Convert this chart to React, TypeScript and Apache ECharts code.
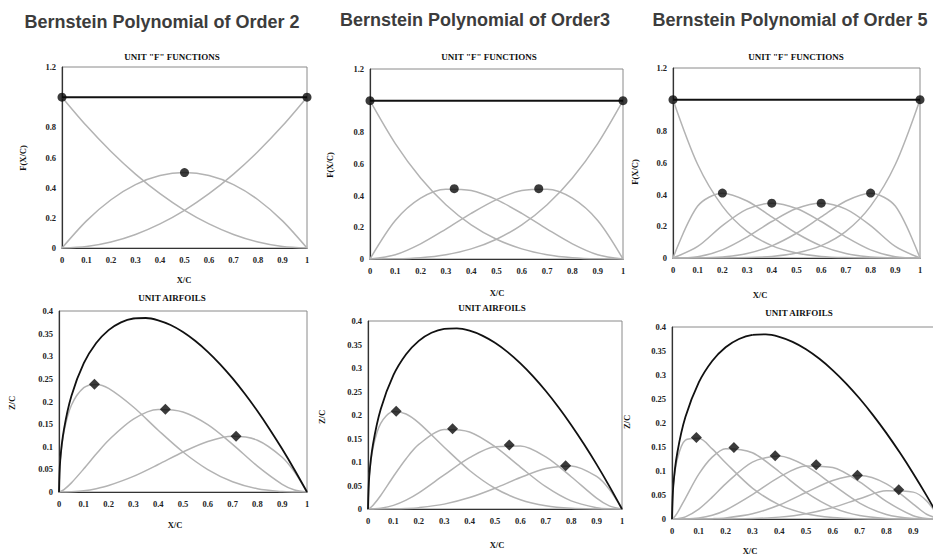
import React, { useEffect, useRef } from "react";
import * as echarts from "echarts";

// ---- Top row: unit "F" functions (Bernstein basis), sampled at TOP_X ----
const TOP_X = [0, 0.1, 0.2, 0.3, 0.4, 0.5, 0.6, 0.7, 0.8, 0.9, 1];
const SUM_X = [0, 1];
const SUM_Y = [1, 1];

const O2_F0 = [1, 0.81, 0.64, 0.49, 0.36, 0.25, 0.16, 0.09, 0.04, 0.01, 0];
const O2_F1 = [0, 0.18, 0.32, 0.42, 0.48, 0.5, 0.48, 0.42, 0.32, 0.18, 0];
const O2_F2 = [0, 0.01, 0.04, 0.09, 0.16, 0.25, 0.36, 0.49, 0.64, 0.81, 1];

const O3_F0 = [1, 0.729, 0.512, 0.343, 0.216, 0.125, 0.064, 0.027, 0.008, 0.001, 0];
const O3_F1 = [0, 0.243, 0.384, 0.441, 0.432, 0.375, 0.288, 0.189, 0.096, 0.027, 0];
const O3_F2 = [0, 0.027, 0.096, 0.189, 0.288, 0.375, 0.432, 0.441, 0.384, 0.243, 0];
const O3_F3 = [0, 0.001, 0.008, 0.027, 0.064, 0.125, 0.216, 0.343, 0.512, 0.729, 1];

const O5_F0 = [1, 0.5905, 0.3277, 0.1681, 0.0778, 0.0313, 0.0102, 0.0024, 0.0003, 0, 0];
const O5_F1 = [0, 0.3281, 0.4096, 0.3602, 0.2592, 0.1563, 0.0768, 0.0284, 0.0064, 0.0005, 0];
const O5_F2 = [0, 0.0729, 0.2048, 0.3087, 0.3456, 0.3125, 0.2304, 0.1323, 0.0512, 0.0081, 0];
const O5_F3 = [0, 0.0081, 0.0512, 0.1323, 0.2304, 0.3125, 0.3456, 0.3087, 0.2048, 0.0729, 0];
const O5_F4 = [0, 0.0005, 0.0064, 0.0284, 0.0768, 0.1563, 0.2592, 0.3602, 0.4096, 0.3281, 0];
const O5_F5 = [0, 0, 0.0003, 0.0024, 0.0102, 0.0313, 0.0778, 0.1681, 0.3277, 0.5905, 1];

const O2_FPEAK_X = [0, 0.5, 1];
const O2_FPEAK_Y = [1, 0.5, 1];
const O3_FPEAK_X = [0, 0.333, 0.667, 1];
const O3_FPEAK_Y = [1, 0.444, 0.444, 1];
const O5_FPEAK_X = [0, 0.2, 0.4, 0.6, 0.8, 1];
const O5_FPEAK_Y = [1, 0.41, 0.346, 0.346, 0.41, 1];

// ---- Bottom row: unit airfoils ----
const ENV_X = [0, 0.005, 0.02, 0.05, 0.1, 0.15, 0.2, 0.25, 0.3, 0.35, 0.4, 0.45, 0.5, 0.55, 0.6, 0.65, 0.7, 0.75, 0.8, 0.85, 0.9, 0.95, 1];
const ENVELOPE = [0, 0.0704, 0.1386, 0.2124, 0.2846, 0.3292, 0.3578, 0.375, 0.3834, 0.3845, 0.3795, 0.369, 0.3536, 0.3337, 0.3098, 0.2822, 0.251, 0.2165, 0.1789, 0.1383, 0.0949, 0.0487, 0];

const LOW_X = [0, 0.005, 0.02, 0.05, 0.1, 0.15, 0.2, 0.3, 0.4, 0.5, 0.6, 0.7, 0.8, 0.9, 0.95, 1];

const O2_A0 = [0, 0.0697, 0.1331, 0.1917, 0.2305, 0.2378, 0.229, 0.1879, 0.1366, 0.0884, 0.0496, 0.0226, 0.0072, 0.0009, 0.0001, 0];
const O2_A1 = [0, 0.0007, 0.0054, 0.0202, 0.0512, 0.0839, 0.1145, 0.161, 0.1822, 0.1768, 0.1487, 0.1054, 0.0572, 0.0171, 0.0046, 0];
const O2_A2 = [0, 0, 0.0001, 0.0005, 0.0028, 0.0074, 0.0143, 0.0345, 0.0607, 0.0884, 0.1115, 0.123, 0.1145, 0.0769, 0.044, 0];

const O3_A0 = [0, 0.0693, 0.1305, 0.1821, 0.2075, 0.2022, 0.1832, 0.1315, 0.082, 0.0442, 0.0198, 0.0068, 0.0014, 0.0001, 0, 0];
const O3_A1 = [0, 0.001, 0.008, 0.0288, 0.0692, 0.107, 0.1374, 0.1691, 0.1639, 0.1326, 0.0892, 0.0474, 0.0172, 0.0026, 0.0003, 0];
const O3_A2 = [0, 0, 0.0002, 0.0015, 0.0077, 0.0189, 0.0343, 0.0725, 0.1093, 0.1326, 0.1338, 0.1107, 0.0687, 0.0231, 0.0066, 0];
const O3_A3 = [0, 0, 0, 0, 0.0003, 0.0011, 0.0029, 0.0104, 0.0243, 0.0442, 0.0669, 0.0861, 0.0916, 0.0692, 0.0418, 0];

const O5_A0 = [0, 0.0687, 0.1253, 0.1644, 0.1681, 0.1461, 0.1173, 0.0645, 0.0295, 0.0111, 0.0032, 0.0006, 0.0001, 0, 0, 0];
const O5_A1 = [0, 0.0017, 0.0128, 0.0432, 0.0934, 0.1289, 0.1466, 0.1381, 0.0984, 0.0553, 0.0238, 0.0071, 0.0011, 0, 0, 0];
const O5_A2 = [0, 0, 0.0005, 0.0045, 0.0207, 0.0455, 0.0733, 0.1184, 0.1312, 0.1105, 0.0714, 0.0332, 0.0092, 0.0008, 0.0001, 0];
const O5_A3 = [0, 0, 0, 0.0002, 0.0023, 0.008, 0.0183, 0.0507, 0.0874, 0.1105, 0.1071, 0.0775, 0.0366, 0.0069, 0.001, 0];
const O5_A4 = [0, 0, 0, 0, 0.0001, 0.0007, 0.0023, 0.0109, 0.0291, 0.0553, 0.0803, 0.0904, 0.0733, 0.0311, 0.0099, 0];
const O5_A5 = [0, 0, 0, 0, 0, 0, 0.0001, 0.0009, 0.0039, 0.0111, 0.0241, 0.0422, 0.0586, 0.056, 0.0377, 0];

const O2_APEAK_X = [0.143, 0.429, 0.714];
const O2_APEAK_Y = [0.238, 0.183, 0.123];
const O3_APEAK_X = [0.111, 0.333, 0.556, 0.778];
const O3_APEAK_Y = [0.208, 0.171, 0.136, 0.092];
const O5_APEAK_X = [0.091, 0.231, 0.385, 0.538, 0.692, 0.846];
const O5_APEAK_Y = [0.17, 0.149, 0.132, 0.113, 0.091, 0.061];

const MAIN_TITLES = ["Bernstein Polynomial of Order 2", "Bernstein Polynomial of Order3", "Bernstein Polynomial of Order 5"];
const TOP_SUB = 'UNIT "F" FUNCTIONS';
const LOW_SUB = "UNIT AIRFOILS";
const X_NAME = "X/C";
const TOP_Y_NAME = "F(X/C)";
const LOW_Y_NAME = "Z/C";

const GRIDS = [
  { left: 62, top: 67, width: 245, height: 181 },
  { left: 370, top: 69, width: 253, height: 190 },
  { left: 673, top: 68, width: 247, height: 190 },
  { left: 59, top: 311, width: 248, height: 181 },
  { left: 368, top: 321, width: 254, height: 188 },
  { left: 672, top: 327, width: 268, height: 192 },
];

const GRAY = "#b3b3b3";
const SERIF = "'Liberation Serif', 'Times New Roman', serif";

function lineSeries(xs: number[], ys: number[], g: number, color: string, width: number, z: number) {
  return {
    type: "line",
    xAxisIndex: g,
    yAxisIndex: g,
    data: xs.map((x, i) => [x, ys[i]]),
    smooth: 0.3,
    symbol: "none",
    showSymbol: false,
    silent: true,
    lineStyle: { color, width },
    z,
  };
}

function markerSeries(xs: number[], ys: number[], g: number, symbol: string, size: number) {
  return {
    type: "scatter",
    xAxisIndex: g,
    yAxisIndex: g,
    data: xs.map((x, i) => [x, ys[i]]),
    symbol,
    symbolSize: size,
    clip: false,
    silent: true,
    itemStyle: { color: "#0a0a0a" },
    z: 6,
  };
}

function txt(text: string, x: number, y: number, font: string, fill: string, rotation = 0) {
  return {
    type: "text",
    x,
    y,
    rotation,
    silent: true,
    style: { text, font, fill, textAlign: "center", textVerticalAlign: "middle" },
  };
}

const fmt = (v: number) => String(Math.round(v * 100) / 100);

export default function App() {
  const ref = useRef<HTMLDivElement>(null);

  useEffect(() => {
    if (!ref.current) return;
    const chart = echarts.init(ref.current, null, { renderer: "svg" });

    const topCurves = [
      [O2_F0, O2_F1, O2_F2],
      [O3_F0, O3_F1, O3_F2, O3_F3],
      [O5_F0, O5_F1, O5_F2, O5_F3, O5_F4, O5_F5],
    ];
    const lowCurves = [
      [O2_A0, O2_A1, O2_A2],
      [O3_A0, O3_A1, O3_A2, O3_A3],
      [O5_A0, O5_A1, O5_A2, O5_A3, O5_A4, O5_A5],
    ];
    const topPeaks = [
      [O2_FPEAK_X, O2_FPEAK_Y],
      [O3_FPEAK_X, O3_FPEAK_Y],
      [O5_FPEAK_X, O5_FPEAK_Y],
    ];
    const lowPeaks = [
      [O2_APEAK_X, O2_APEAK_Y],
      [O3_APEAK_X, O3_APEAK_Y],
      [O5_APEAK_X, O5_APEAK_Y],
    ];

    const series: any[] = [];
    for (let k = 0; k < 3; k++) {
      topCurves[k].forEach((c) => series.push(lineSeries(TOP_X, c, k, GRAY, 1.5, 2)));
      series.push(lineSeries(SUM_X, SUM_Y, k, "#111", 2, 3));
      series.push(markerSeries(topPeaks[k][0], topPeaks[k][1], k, "circle", 9));
      lowCurves[k].forEach((c) => series.push(lineSeries(LOW_X, c, k + 3, GRAY, 1.5, 2)));
      series.push(lineSeries(ENV_X, ENVELOPE, k + 3, "#111", 1.8, 3));
      series.push(markerSeries(lowPeaks[k][0], lowPeaks[k][1], k + 3, "diamond", 11));
    }

    const labelStyle = { fontSize: 8.5, fontWeight: "bold", fontFamily: SERIF, color: "#222" };

    const xAxis = GRIDS.map((_, g) => ({
      type: "value",
      gridIndex: g,
      min: 0,
      max: 1,
      interval: 0.1,
      axisLine: { show: true, onZero: false, lineStyle: { color: "#333", width: 1.2 } },
      axisTick: { show: false },
      splitLine: { show: false },
      axisLabel: {
        ...labelStyle,
        margin: 7,
        // the last panel runs past the page edge: its "1" label is not visible
        formatter: (v: number) => (g === 5 && Math.abs(v - 1) < 1e-9 ? "" : fmt(v)),
      },
    }));

    const yAxis = GRIDS.map((_, g) => {
      const top = g < 3;
      return {
        type: "value",
        gridIndex: g,
        min: 0,
        max: top ? 1.2 : 0.4,
        interval: top ? 0.2 : 0.05,
        axisLine: { show: true, onZero: false, lineStyle: { color: "#333", width: 1.2 } },
        axisTick: { show: false },
        splitLine: { show: false },
        axisLabel: {
          ...labelStyle,
          margin: 6,
          formatter: (v: number) => (top && Math.abs(v - 1) < 1e-9 ? "" : fmt(v)),
        },
      };
    });

    const titleFont = `bold 18px 'Liberation Sans', Arial, sans-serif`;
    const subFont = `bold 9px ${SERIF}`;
    const nameFont = `bold 8.5px ${SERIF}`;

    const graphic = [
      txt(MAIN_TITLES[0], 162, 22, titleFont, "#3c3c3c"),
      txt(MAIN_TITLES[1], 475, 20, titleFont, "#3c3c3c"),
      txt(MAIN_TITLES[2], 790, 20, titleFont, "#3c3c3c"),
      txt(TOP_SUB, 172, 57, subFont, "#111"),
      txt(TOP_SUB, 489, 57, subFont, "#111"),
      txt(TOP_SUB, 796, 57, subFont, "#111"),
      txt(X_NAME, 184, 280, nameFont, "#111"),
      txt(X_NAME, 497, 293, nameFont, "#111"),
      txt(X_NAME, 760, 295, nameFont, "#111"),
      txt(LOW_SUB, 172, 298, subFont, "#111"),
      txt(LOW_SUB, 492, 308, subFont, "#111"),
      txt(LOW_SUB, 799, 313, subFont, "#111"),
      txt(X_NAME, 175, 525, nameFont, "#111"),
      txt(X_NAME, 497, 545, nameFont, "#111"),
      txt(X_NAME, 750, 551, nameFont, "#111"),
      txt(TOP_Y_NAME, 23, 158, nameFont, "#111", Math.PI / 2),
      txt(TOP_Y_NAME, 330, 165, nameFont, "#111", Math.PI / 2),
      txt(TOP_Y_NAME, 635, 172, nameFont, "#111", Math.PI / 2),
      txt(LOW_Y_NAME, 12, 403, nameFont, "#111", Math.PI / 2),
      txt(LOW_Y_NAME, 322, 417, nameFont, "#111", Math.PI / 2),
      txt(LOW_Y_NAME, 627, 422, nameFont, "#111", Math.PI / 2),
    ];

    chart.setOption({
      animation: false,
      backgroundColor: "#ffffff",
      grid: GRIDS.map((g) => ({ ...g, show: true, borderColor: "#8a8a8a", borderWidth: 1, backgroundColor: "transparent" })),
      xAxis,
      yAxis,
      series,
      graphic,
    });

    return () => chart.dispose();
  }, []);

  return (
    <div
      style={{ position: "absolute", left: 0, top: 0, width: 933, height: 557, overflow: "hidden", background: "#fff" }}
    >
      <div ref={ref} style={{ position: "absolute", left: 0, top: 0, width: 960, height: 557 }} />
    </div>
  );
}
